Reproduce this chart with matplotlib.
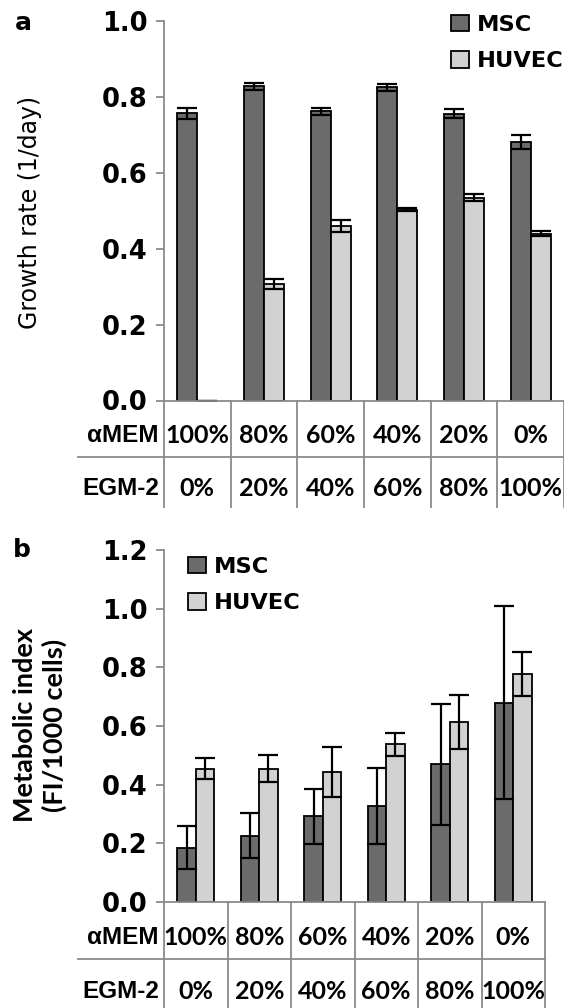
import numpy as np
import matplotlib
matplotlib.use('Agg')
import matplotlib.pyplot as plt
import matplotlib.transforms as mtransforms

# medium ratios (table under the bars)
amem_pct = ['100%', '80%', '60%', '40%', '20%', '0%']
egm_pct = ['0%', '20%', '40%', '60%', '80%', '100%']
series = ['MSC', 'HUVEC']

# panel a: growth rate (1/day)
growth_msc = [0.757, 0.828, 0.762, 0.825, 0.756, 0.682]
growth_msc_err = [0.015, 0.009, 0.010, 0.009, 0.012, 0.018]
growth_huvec = [0.0, 0.307, 0.460, 0.503, 0.534, 0.440]
growth_huvec_err = [0.0, 0.012, 0.015, 0.003, 0.009, 0.007]

# panel b: metabolic index (FI/1000 cells)
meta_msc = [0.185, 0.226, 0.292, 0.328, 0.469, 0.680]
meta_msc_err = [0.073, 0.076, 0.094, 0.130, 0.205, 0.330]
meta_huvec = [0.455, 0.455, 0.444, 0.537, 0.613, 0.776]
meta_huvec_err = [0.035, 0.047, 0.085, 0.038, 0.092, 0.075]

W, H = 564, 1008
dark = '#6b6b6b'
light = '#d2d2d2'
grey = '#8a8a8a'
tick_font = dict(family='DejaVu Sans', weight='bold', size=18.5)
cell_font = dict(family='Lato', weight='bold', size=18)
row_font = dict(family='Liberation Sans', weight='bold', size=17.5)

fig = plt.figure(figsize=(W / 100, H / 100), dpi=100)


def panel(rect, msc, msc_err, huv, huv_err, ymax, bw, right_px,
          line_y, bottom_y, t1_y, t2_y, leg_xy):
    ax = fig.add_axes(rect)
    x = np.arange(len(amem_pct))
    ekw = dict(ecolor='black', elinewidth=1.6, capsize=7, capthick=1.6)
    ax.bar(x - bw / 2, msc, bw, color=dark, edgecolor='black', linewidth=1.3,
           yerr=msc_err, error_kw=ekw, label=series[0], zorder=2)
    ax.bar(x + bw / 2, huv, bw, color=light, edgecolor='black', linewidth=1.3,
           yerr=huv_err, error_kw=ekw, label=series[1], zorder=2)
    ax.set_xlim(-0.5, len(x) - 0.5)
    ax.set_ylim(0, ymax)
    ticks = np.arange(0, ymax + 0.001, 0.2)
    ax.set_yticks(ticks)
    ax.set_yticklabels(['%.1f' % t for t in ticks], fontdict=tick_font)
    ax.set_xticks([])
    for s in ['top', 'right']:
        ax.spines[s].set_visible(False)
    for s in ['left', 'bottom']:
        ax.spines[s].set_color(grey)
        ax.spines[s].set_linewidth(1.3)
        ax.spines[s].set_zorder(3)
    ax.tick_params(axis='y', direction='out', length=6, width=1.3,
                   color=grey, pad=6)

    # the table below the axis
    tr = ax.get_xaxis_transform()
    bl = mtransforms.blended_transform_factory(fig.transFigure, ax.transAxes)
    for xb in np.arange(-0.5, len(x)):
        ax.plot([xb, xb], [0, bottom_y], transform=tr, color=grey, lw=1.3,
                clip_on=False)
    ax.plot([78 / W, right_px / W], [line_y, line_y], transform=bl,
            color=grey, lw=1.3, clip_on=False)
    for i in x:
        ax.text(i, t1_y, amem_pct[i], transform=tr, ha='center', va='center',
                fontdict=cell_font)
        ax.text(i, t2_y, egm_pct[i], transform=tr, ha='center', va='center',
                fontdict=cell_font)
    ax.text(159 / W, t1_y, '\u03b1MEM', transform=bl, ha='right',
            va='center', fontdict=row_font)
    ax.text(159 / W, t2_y, 'EGM-2', transform=bl, ha='right',
            va='center', fontdict=row_font)

    ax.legend(loc='upper left', bbox_to_anchor=(leg_xy[0] / W, 1 - leg_xy[1] / H),
              bbox_transform=fig.transFigure, frameon=False,
              prop=dict(family='DejaVu Sans', weight='bold', size=16.2),
              handlelength=0.8, handleheight=0.75, handletextpad=0.33,
              labelspacing=0.72, borderpad=0, borderaxespad=0)
    return ax


axa = panel([164 / W, 1 - 400.5 / H, 400 / W, 379.5 / H],
            growth_msc, growth_msc_err, growth_huvec, growth_huvec_err,
            1.0, 0.30, 564, -0.148, -0.28, -0.0935, -0.233, (451, 15))
axb = panel([164 / W, 1 - 902 / H, 381 / W, 352 / H],
            meta_msc, meta_msc_err, meta_huvec, meta_huvec_err,
            1.2, 0.29, 545, -0.162, -0.32, -0.101, -0.253, (188, 557))

fig.text(30 / W, 1 - 212.5 / H, 'Growth rate (1/day)', rotation=90,
         ha='center', va='center', family='DejaVu Sans', size=17)
fig.text(40 / W, 1 - 725 / H, 'Metabolic index\n(FI/1000 cells)', rotation=90,
         ha='center', va='center', multialignment='center', family='Lato',
         weight='bold', size=19.5, linespacing=1.2)
fig.text(15 / W, 1 - 30 / H, 'a', family='DejaVu Sans', weight='bold', size=18)
fig.text(13 / W, 1 - 557 / H, 'b', family='DejaVu Sans', weight='bold', size=18)

fig.savefig('out.png', dpi=100, facecolor='white')
